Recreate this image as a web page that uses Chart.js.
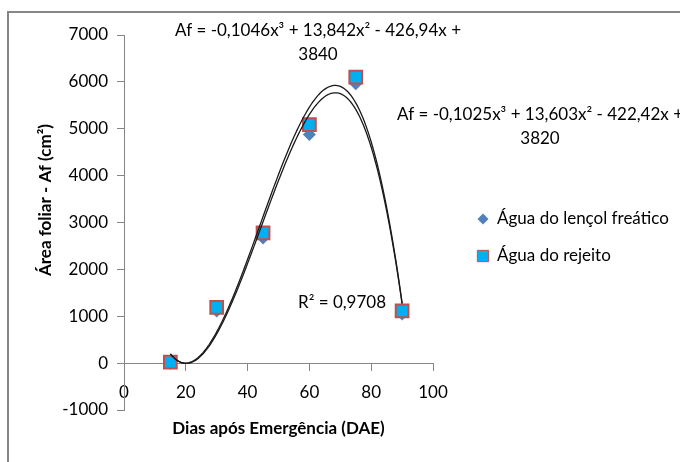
<!DOCTYPE html>
<html>
<head>
<meta charset="utf-8">
<script src="https://cdn.jsdelivr.net/npm/chart.js@4/dist/chart.umd.min.js"></script>
<style>
  html, body { margin: 0; padding: 0; background: #fff; }
  #wrap { width: 680px; height: 462px; position: relative; }
</style>
</head>
<body>
<div id="wrap"><canvas id="chart"></canvas></div>
<script>
// dias após emergência
const days = [15, 30, 45, 60, 75, 90];
// área foliar (cm²)
const lencolFreatico = [0, 1110, 2670, 4880, 5960, 1050];
const rejeito = [20, 1190, 2780, 5090, 6100, 1115];
const seriesNames = ['Água do lençol freático', 'Água do rejeito'];

const xTicks = [0, 20, 40, 60, 80, 100];
const yTicks = [-1000, 0, 1000, 2000, 3000, 4000, 5000, 6000, 7000];

// polynomial trendlines: x³, x², x, constant
const trendTop = [-0.1046, 13.842, -426.94, 3840];
const trendRight = [-0.1025, 13.603, -422.42, 3820];
const eqTop = ['Af = -0,1046x³ + 13,842x² - 426,94x +', '3840'];
const eqRight = ['Af = -0,1025x³ + 13,603x² - 422,42x +', '3820'];
const r2Text = 'R² = 0,9708';

const FONT = 'Lato, "Open Sans", sans-serif';
const AXIS = '#868686';

function poly(c, x) {
  return c[0] * x * x * x + c[1] * x * x + c[2] * x + c[3];
}

const extras = {
  id: 'extras',
  beforeDraw(chart) {
    const ctx = chart.ctx;
    ctx.save();
    ctx.strokeStyle = AXIS;
    ctx.lineWidth = 2;
    ctx.beginPath();
    ctx.moveTo(8, 462);
    ctx.lineTo(8, 12);
    ctx.lineTo(680, 12);
    ctx.stroke();
    ctx.restore();
  },
  afterDatasetsDraw(chart) {
    const ctx = chart.ctx;
    const xs = chart.scales.x, ys = chart.scales.y;
    ctx.save();
    ctx.strokeStyle = '#1a1a1a';
    ctx.lineWidth = 1.3;
    [trendTop, trendRight].forEach(c => {
      ctx.beginPath();
      for (let x = days[0]; x <= days[days.length - 1] + 0.001; x += 0.5) {
        const px = xs.getPixelForValue(x), py = ys.getPixelForValue(poly(c, x));
        if (x === days[0]) ctx.moveTo(px, py); else ctx.lineTo(px, py);
      }
      ctx.stroke();
    });
    ctx.restore();
  },
  afterDraw(chart) {
    const ctx = chart.ctx;
    ctx.save();
    ctx.fillStyle = '#000';
    ctx.textBaseline = 'middle';
    ctx.font = '17px ' + FONT;

    // equations
    ctx.textAlign = 'center';
    ctx.fillText(eqTop[0], 318, 31);
    ctx.fillText(eqTop[1], 318, 55);
    ctx.fillText(eqRight[0], 540, 115);
    ctx.fillText(eqRight[1], 540, 139);
    ctx.textAlign = 'left';
    ctx.fillText(r2Text, 298, 303);

    // legend
    const ds = chart.data.datasets;
    const rows = [219, 256];
    ds.forEach((d, i) => {
      ctx.fillStyle = d.backgroundColor;
      ctx.strokeStyle = d.borderColor;
      Chart.helpers.drawPoint(ctx, {
        pointStyle: d.pointStyle,
        radius: i === 0 ? 5.5 : 8,
        rotation: 0,
        borderWidth: d.borderWidth
      }, 483, rows[i]);
      ctx.fillStyle = '#000';
      ctx.fillText(d.label, 497, rows[i]);
    });

    // y axis title
    ctx.font = 'bold 17px ' + FONT;
    ctx.textAlign = 'center';
    ctx.translate(46, 200);
    ctx.rotate(-Math.PI / 2);
    ctx.fillText('Área foliar - Af (cm²)', 0, 0);
    ctx.restore();
  }
};

new Chart(document.getElementById('chart'), {
  type: 'scatter',
  data: {
    datasets: [
      {
        label: seriesNames[0],
        data: days.map((d, i) => ({ x: d, y: lencolFreatico[i] })),
        pointStyle: 'rectRot',
        pointRadius: 6.5,
        backgroundColor: '#4F81BD',
        borderColor: '#4F81BD',
        borderWidth: 0,
        order: 1
      },
      {
        label: seriesNames[1],
        data: days.map((d, i) => ({ x: d, y: rejeito[i] })),
        pointStyle: 'rect',
        pointRadius: 9,
        backgroundColor: '#00B0F0',
        borderColor: '#C0504D',
        borderWidth: 2,
        order: 0
      }
    ]
  },
  options: {
    responsive: true,
    maintainAspectRatio: false,
    animation: false,
    layout: { padding: { left: 8, top: 35, right: 247, bottom: 52 } },
    plugins: {
      legend: { display: false },
      tooltip: { enabled: false }
    },
    scales: {
      x: {
        type: 'linear',
        position: { y: 0 },
        min: xTicks[0],
        max: xTicks[xTicks.length - 1],
        ticks: {
          stepSize: xTicks[1] - xTicks[0],
          color: '#000',
          font: { family: FONT, size: 17 },
          padding: 12,
          maxRotation: 0,
          callback: v => String(v)
        },
        grid: { drawOnChartArea: false, drawTicks: true, tickLength: 7, color: AXIS },
        border: { display: true, color: AXIS, width: 1 },
        title: {
          display: true,
          text: 'Dias após Emergência (DAE)',
          color: '#000',
          font: { family: FONT, size: 17, weight: 'bold' },
          padding: { top: 4, bottom: 0 }
        }
      },
      y: {
        type: 'linear',
        position: 'left',
        min: yTicks[0],
        max: yTicks[yTicks.length - 1],
        afterFit(scale) { scale.width = 116; },
        ticks: {
          stepSize: yTicks[1] - yTicks[0],
          color: '#000',
          font: { family: FONT, size: 17 },
          padding: 9,
          callback: v => String(v)
        },
        grid: { drawOnChartArea: false, drawTicks: true, tickLength: 7, color: AXIS },
        border: { display: true, color: AXIS, width: 1 }
      }
    }
  },
  plugins: [extras]
});
</script>
</body>
</html>
